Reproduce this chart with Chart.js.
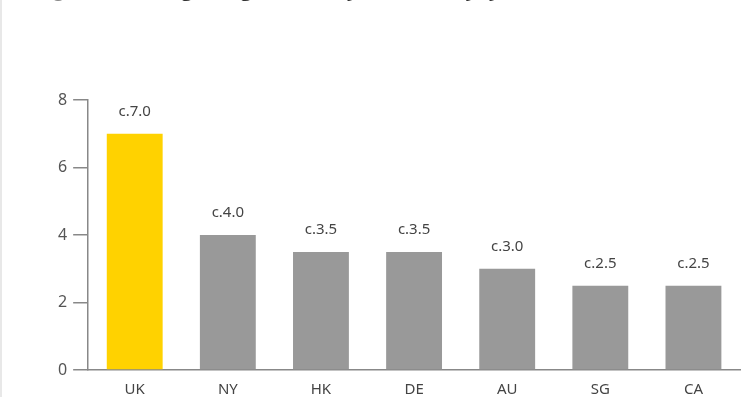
<!DOCTYPE html>
<html>
<head>
    <title>Average delay by market</title>
    <script src="https://cdn.jsdelivr.net/npm/chart.js"></script>
    <style>
        body { margin: 0; background: #fff; font-family: "Open Sans", Arial, sans-serif; overflow: hidden; }
        .wrap { position: relative; width: 739px; height: 397px; border-left: 2px solid #e8e8e8; overflow: hidden; }
        .title { position: absolute; left: 36px; top: -25px; font-size: 20px; color: #333; white-space: nowrap; }
        .title span { color: #888; font-weight: normal; }
        .title b { font-weight: bold; }
        canvas { display: block; }
    </style>
</head>
<body>
<div class="wrap">
    <div class="title"><span>Figure 3:</span> <b>Average length of delay to recovery (years)</b></div>
    <canvas id="barChart" width="739" height="397"></canvas>
</div>

<script>
    const markets = ['UK', 'NY', 'HK', 'DE', 'AU', 'SG', 'CA'];
    const years = [7.0, 4.0, 3.5, 3.5, 3.0, 2.5, 2.5];
    const valueLabels = ['c.7.0', 'c.4.0', 'c.3.5', 'c.3.5', 'c.3.0', 'c.2.5', 'c.2.5'];
    const yTicks = [0, 2, 4, 6, 8];

    const barColors = markets.map(m => m === 'UK' ? '#FFD200' : '#999999');
    const fontFamily = '"Noto Sans", "Open Sans", Arial, sans-serif';

    // writes the "c.x.x" text above each bar
    const valueLabelPlugin = {
        id: 'valueLabels',
        afterDatasetsDraw(chart) {
            const ctx = chart.ctx;
            const meta = chart.getDatasetMeta(0);
            ctx.save();
            ctx.font = '15px ' + fontFamily;
            ctx.fillStyle = '#444';
            ctx.textAlign = 'center';
            ctx.textBaseline = 'middle';
            meta.data.forEach((bar, i) => {
                ctx.fillText(valueLabels[i], bar.x, bar.y - 22);
            });
            ctx.restore();
        }
    };

    new Chart(document.getElementById('barChart'), {
        type: 'bar',
        data: {
            labels: markets,
            datasets: [{
                data: years,
                backgroundColor: barColors,
                barPercentage: 0.6,
                categoryPercentage: 1.0
            }]
        },
        options: {
            responsive: false,
            animation: false,
            layout: { padding: { top: 100, left: 50, right: 1, bottom: -13 } },
            plugins: {
                legend: { display: false },
                tooltip: { enabled: false }
            },
            scales: {
                x: {
                    grid: { display: false, drawTicks: false },
                    border: { color: '#888', width: 1.5 },
                    ticks: { color: '#444', padding: 11, font: { size: 15, family: fontFamily } }
                },
                y: {
                    min: 0,
                    max: 8,
                    afterBuildTicks(axis) { axis.ticks = yTicks.map(v => ({ value: v })); },
                    grid: { drawOnChartArea: false, drawTicks: true, tickLength: 15, color: '#888', lineWidth: 1.5 },
                    border: { color: '#888', width: 1.5 },
                    ticks: { color: '#555', padding: 6, font: { size: 16, family: fontFamily } }
                }
            }
        },
        plugins: [valueLabelPlugin]
    });
</script>
</body>
</html>
